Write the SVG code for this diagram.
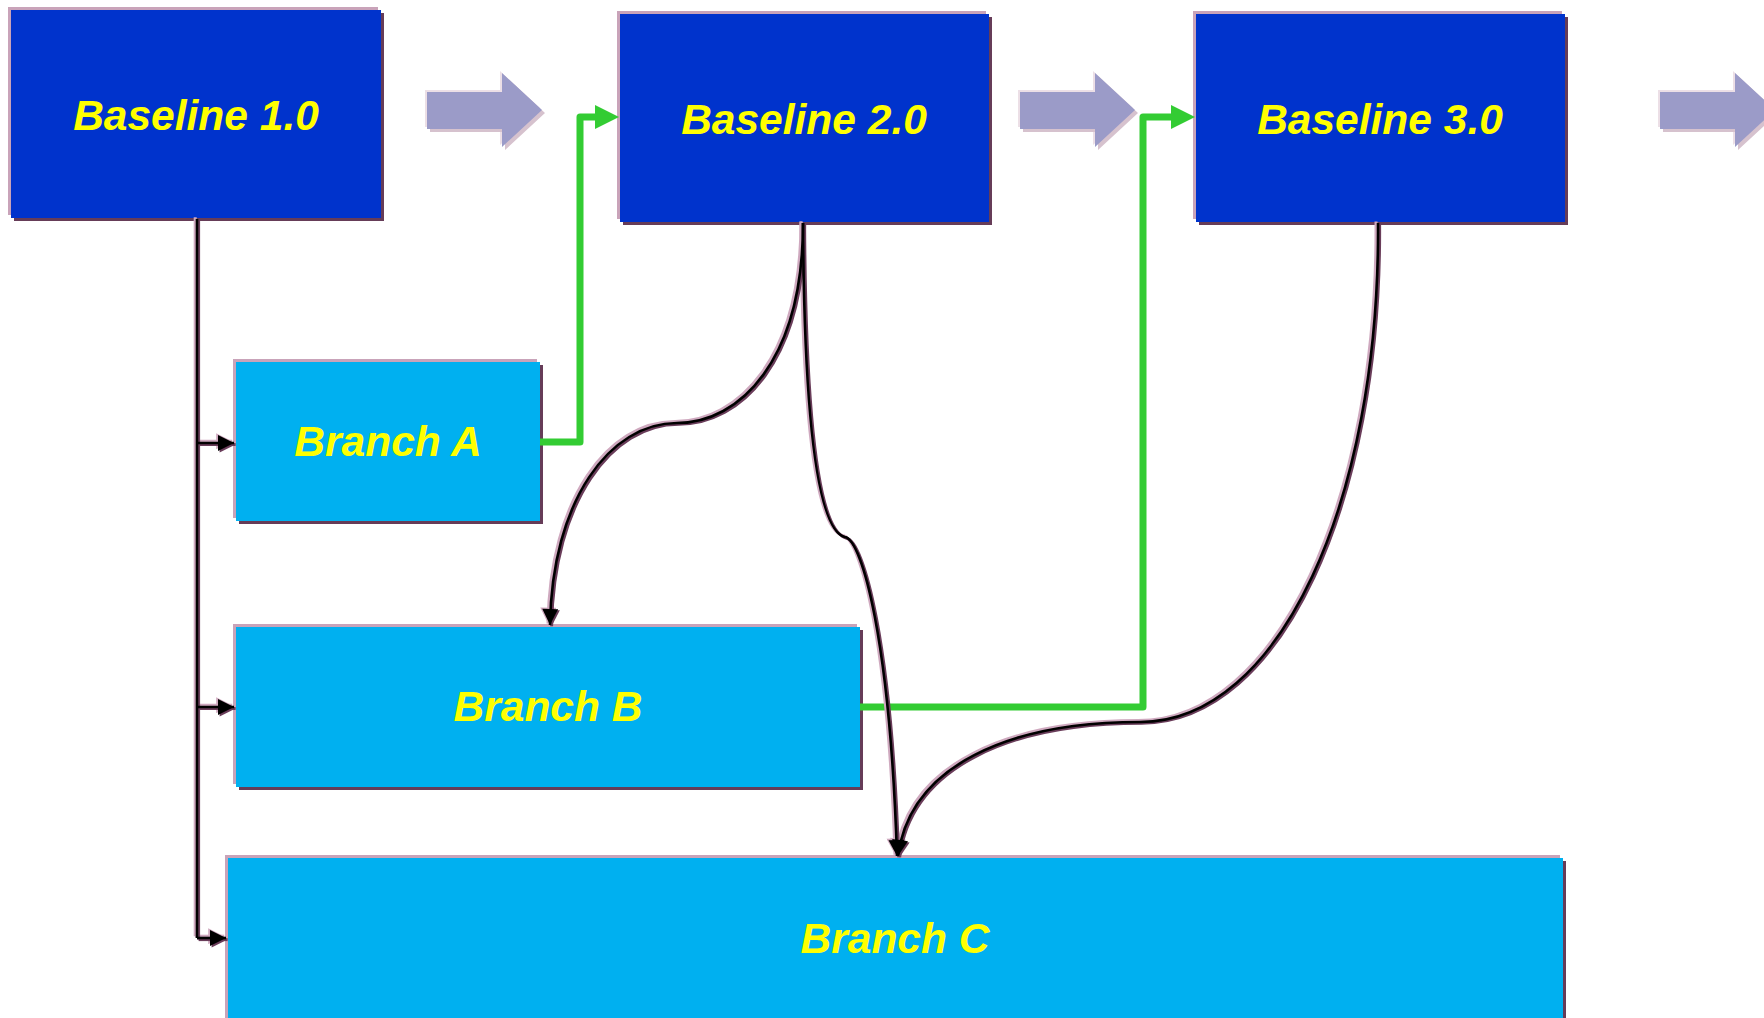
<svg xmlns="http://www.w3.org/2000/svg" width="1764" height="1018" viewBox="0 0 1764 1018">
<style>
.hl{fill:#c9a3b9}
.sh{fill:#663c58}
.base{fill:#0033cc}
.br{fill:#00b0f0}
.lbl{font-family:"Liberation Sans",Arial,sans-serif;font-weight:bold;font-style:italic;font-size:42.5px;fill:#ffff00;text-anchor:middle}
.blk{fill:#9b9bc8}
.blk-hl{fill:#ecdfe6}
.blk-sh{fill:#d6c2ce}
.c-pk{fill:none;stroke:#cfa9bf;stroke-width:3;marker-end:url(#ah-pk)}
.c-dk{fill:none;stroke:#6a3d5a;stroke-width:3;marker-end:url(#ah-dk)}
.c-bk{fill:none;stroke:#000;stroke-width:2.6;marker-end:url(#ah-bk)}
.c-pk0{fill:none;stroke:#cfa9bf;stroke-width:3}
.c-dk0{fill:none;stroke:#6a3d5a;stroke-width:3}
.c-bk0{fill:none;stroke:#000;stroke-width:2.6}
.gr{fill:none;stroke:#33cc33;stroke-width:7;stroke-linejoin:round;marker-end:url(#ah-gr)}
</style>
<defs>
<marker id="ah-bk" viewBox="0 0 10 10" refX="10" refY="5" markerWidth="17" markerHeight="16" markerUnits="userSpaceOnUse" orient="auto"><path d="M0,0 L10,5 L0,10 z" fill="#000"/></marker>
<marker id="ah-pk" viewBox="0 0 10 10" refX="10" refY="5" markerWidth="17" markerHeight="16" markerUnits="userSpaceOnUse" orient="auto"><path d="M0,0 L10,5 L0,10 z" fill="#cfa9bf"/></marker>
<marker id="ah-dk" viewBox="0 0 10 10" refX="10" refY="5" markerWidth="17" markerHeight="16" markerUnits="userSpaceOnUse" orient="auto"><path d="M0,0 L10,5 L0,10 z" fill="#6a3d5a"/></marker>
<marker id="ah-gr" viewBox="0 0 10 10" refX="0" refY="5" markerWidth="24" markerHeight="26" markerUnits="userSpaceOnUse" orient="auto"><path d="M0,0 L10,5 L0,10 z" fill="#33cc33"/></marker>
<polygon id="blockarrow" points="0,19 75,19 75,0 115,37 75,74 75,56 0,56"/>
</defs>

<rect width="1764" height="1018" fill="#ffffff"/>

<!-- progression block arrows -->
<g id="progress-arrows">
  <use href="#blockarrow" class="blk-hl" transform="translate(425,71)"/>
  <use href="#blockarrow" class="blk-sh" transform="translate(430,76)"/>
  <use href="#blockarrow" class="blk" transform="translate(427,73)"/>
  <use href="#blockarrow" class="blk-hl" transform="translate(1018,71)"/>
  <use href="#blockarrow" class="blk-sh" transform="translate(1023,76)"/>
  <use href="#blockarrow" class="blk" transform="translate(1020,73)"/>
  <use href="#blockarrow" class="blk-hl" transform="translate(1658,71)"/>
  <use href="#blockarrow" class="blk-sh" transform="translate(1663,76)"/>
  <use href="#blockarrow" class="blk" transform="translate(1660,73)"/>
</g>

<g id="baseline1">
  <rect class="hl" x="8" y="7" width="370" height="208"/>
  <rect class="sh" x="14" y="13" width="370" height="208"/>
  <rect class="base" x="11" y="10" width="370" height="208"/>
  <text class="lbl" x="196" y="130">Baseline 1.0</text>
</g>
<g id="baseline2">
  <rect class="hl" x="617" y="11" width="369" height="208"/>
  <rect class="sh" x="623" y="17" width="369" height="208"/>
  <rect class="base" x="620" y="14" width="369" height="208"/>
  <text class="lbl" x="804" y="134">Baseline 2.0</text>
</g>
<g id="baseline3">
  <rect class="hl" x="1193" y="11" width="369" height="208"/>
  <rect class="sh" x="1199" y="17" width="369" height="208"/>
  <rect class="base" x="1196" y="14" width="369" height="208"/>
  <text class="lbl" x="1380" y="134">Baseline 3.0</text>
</g>
<g id="branchA">
  <rect class="hl" x="233" y="359" width="304" height="159"/>
  <rect class="sh" x="239" y="365" width="304" height="159"/>
  <rect class="br" x="236" y="362" width="304" height="159"/>
  <text class="lbl" x="388" y="456">Branch A</text>
</g>
<g id="branchB">
  <rect class="hl" x="233" y="624" width="624" height="160"/>
  <rect class="sh" x="239" y="630" width="624" height="160"/>
  <rect class="br" x="236" y="627" width="624" height="160"/>
  <text class="lbl" x="548" y="721">Branch B</text>
</g>
<g id="branchC">
  <rect class="hl" x="225" y="855" width="1335" height="170"/>
  <rect class="sh" x="231" y="861" width="1335" height="170"/>
  <rect class="br" x="228" y="858" width="1335" height="170"/>
  <text class="lbl" x="895" y="953">Branch C</text>
</g>

<g id="connectors">
  <!-- green merge connectors -->
  <path class="gr" d="M540 442 L580 442 L580 117 L595 117"/>
  <path class="gr" d="M860 707 L1143 707 L1143 117 L1171 117"/>

  <!-- trunk from Baseline 1.0 -->
  <g transform="translate(-1.8,-1.8)">
    <path class="c-pk0" d="M197 219 L197 938"/>
    <path class="c-pk" d="M197 443 L234 443"/>
    <path class="c-pk" d="M197 707 L234 707"/>
    <path class="c-pk" d="M197 938 L226 938"/>
  </g>
  <g transform="translate(1.6,1.6)">
    <path class="c-dk0" d="M197 219 L197 938"/>
    <path class="c-dk" d="M197 443 L234 443"/>
    <path class="c-dk" d="M197 707 L234 707"/>
    <path class="c-dk" d="M197 938 L226 938"/>
  </g>
  <path class="c-bk0" d="M197 219 L197 938"/>
  <path class="c-bk" d="M197 443 L234 443"/>
  <path class="c-bk" d="M197 707 L234 707"/>
  <path class="c-bk" d="M197 938 L226 938"/>

  <!-- curves -->
  <g transform="translate(-2,-1.4)">
    <path class="c-pk" d="M803 223 C803 360 740 423 677 423 C610 423 552 500 550 625"/>
    <path class="c-pk" d="M803 223 C804 400 815 530 845 537 C862 540 890 640 897 856"/>
    <path class="c-pk" d="M1378 223 C1380 500 1280 722 1140 722 C1010 722 910 765 898 856"/>
  </g>
  <g transform="translate(1.6,1.2)">
    <path class="c-dk" d="M803 223 C803 360 740 423 677 423 C610 423 552 500 550 625"/>
    <path class="c-dk" d="M803 223 C804 400 815 530 845 537 C862 540 890 640 897 856"/>
    <path class="c-dk" d="M1378 223 C1380 500 1280 722 1140 722 C1010 722 910 765 898 856"/>
  </g>
  <path class="c-bk" d="M803 223 C803 360 740 423 677 423 C610 423 552 500 550 625"/>
  <path class="c-bk" d="M803 223 C804 400 815 530 845 537 C862 540 890 640 897 856"/>
  <path class="c-bk" d="M1378 223 C1380 500 1280 722 1140 722 C1010 722 910 765 898 856"/>
</g>
</svg>
